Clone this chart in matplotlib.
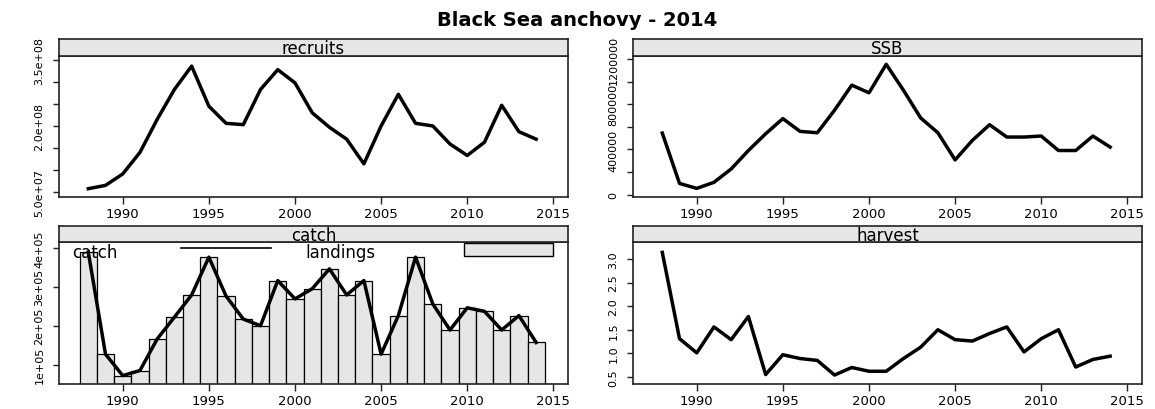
import numpy as np
import matplotlib
matplotlib.use("Agg")
import matplotlib.pyplot as plt
from matplotlib.patches import Rectangle
from matplotlib.lines import Line2D

years = list(range(1988, 2015))
recruits = [57.5, 65, 91, 140, 215, 283, 336, 245, 206, 203, 283, 328, 298, 230, 197,
            170, 114, 200, 272, 206, 200, 159, 133, 163, 247, 187, 170]  # millions
recruits = [v * 1e6 for v in recruits]
ssb = [545, 100, 56, 110, 228, 391, 539, 673, 560, 548, 747, 969, 901, 1153, 924,
       679, 548, 308, 480, 619, 510, 510, 519, 391, 391, 519, 421]  # thousands
ssb = [v * 1e3 for v in ssb]
landings = [389, 127, 72, 85, 166, 222, 279, 376, 276, 217, 200, 316, 269, 295, 346,
            279, 316, 127, 226, 376, 256, 189, 246, 237, 189, 226, 157]  # thousands
landings = [v * 1e3 for v in landings]
catch = list(landings)
harvest = [3.14, 1.31, 1.01, 1.56, 1.29, 1.78, 0.55, 0.97, 0.89, 0.85, 0.54, 0.70,
           0.62, 0.62, 0.89, 1.13, 1.50, 1.29, 1.26, 1.42, 1.56, 1.03, 1.31, 1.50,
           0.71, 0.87, 0.94]

title = "Black Sea anchovy - 2014"
xticks = [1990, 1995, 2000, 2005, 2010, 2015]

W, H = 1155, 410
fig = plt.figure(figsize=(W / 100, H / 100), dpi=100)
plt.rcParams['font.family'] = ['DejaVu Sans']

STRIP = '#e6e6e6'
EDGE = '#222222'


def px_axes(x0, y0, x1, y1):
    return fig.add_axes([x0 / W, (H - y1) / H, (x1 - x0) / W, (y1 - y0) / H])


def strip(x0, y0, x1, y1, label):
    s = px_axes(x0, y0, x1, y1)
    s.set_facecolor(STRIP)
    s.set_xticks([])
    s.set_yticks([])
    for sp in s.spines.values():
        sp.set_linewidth(1.2)
        sp.set_color(EDGE)
    s.text(0.5, 0.45, label, ha='center', va='center', fontsize=12,
           transform=s.transAxes)
    return s


def style(ax, ylim, yticks, ylabels):
    ax.set_xlim(1986.3, 2015.85)
    ax.set_ylim(*ylim)
    ax.set_xticks(xticks)
    ax.set_xticklabels([str(x) for x in xticks], fontsize=9.5)
    ax.set_yticks(yticks)
    ax.set_yticklabels(ylabels, fontsize=8, rotation=90, va='center')
    ax.tick_params(axis='x', length=5, width=1, pad=2.5, color=EDGE)
    ax.tick_params(axis='y', length=4.5, width=1, pad=6, color=EDGE)
    for sp in ax.spines.values():
        sp.set_linewidth(1.2)
        sp.set_color(EDGE)


LX0, LX1 = 59, 568
RX0, RX1 = 633, 1142

# recruits
ax1 = px_axes(LX0, 57, LX1, 198)
ax1.plot(years, recruits, color='black', lw=2.5)
rt = [5e7, 1e8, 1.5e8, 2e8, 2.5e8, 3e8, 3.5e8]
style(ax1, (38.6e6, 359e6), rt,
      ['5.0e+07', '', '', '2.0e+08', '', '', '3.5e+08'])
strip(LX0, 40, LX1, 57, 'recruits')

# SSB
ax2 = px_axes(RX0, 57, RX1, 198)
ax2.plot(years, ssb, color='black', lw=2.5)
st = [0, 2e5, 4e5, 6e5, 8e5, 1e6, 1.2e6]
style(ax2, (-20e3, 1.2265e6), st,
      ['0', '', '400000', '', '800000', '', '1200000'])
strip(RX0, 40, RX1, 57, 'SSB')

# catch
ax3 = px_axes(LX0, 243, LX1, 385)
ax3.bar(years, landings, width=1.0, color=STRIP, edgecolor='black', lw=0.9)
ax3.plot(years, catch, color='black', lw=2.5)
style(ax3, (50.4e3, 415e3), [1e5, 2e5, 3e5, 4e5],
      ['1e+05', '2e+05', '3e+05', '4e+05'])
strip(LX0, 227, LX1, 243, 'catch')
ax3.text(0.0255, 0.93, 'catch', transform=ax3.transAxes, fontsize=12,
         ha='left', va='center')
ax3.add_line(Line2D([0.24, 0.4165], [0.958, 0.958], transform=ax3.transAxes,
                    color='black', lw=1.2))
ax3.text(0.485, 0.93, 'landings', transform=ax3.transAxes, fontsize=12,
         ha='left', va='center')
ax3.add_patch(Rectangle((0.796, 0.901), 0.1745, 0.092, transform=ax3.transAxes,
                        facecolor=STRIP, edgecolor='black', lw=1.0))

# harvest
ax4 = px_axes(RX0, 243, RX1, 385)
ax4.plot(years, harvest, color='black', lw=2.5)
style(ax4, (0.35, 3.36), [0.5, 1.0, 1.5, 2.0, 2.5, 3.0],
      ['0.5', '1.0', '1.5', '2.0', '2.5', '3.0'])
strip(RX0, 227, RX1, 243, 'harvest')

fig.text(0.5, (H - 20) / H, title, ha='center', va='center', fontsize=14,
         fontweight='bold')

fig.savefig('out.png', dpi=100)
